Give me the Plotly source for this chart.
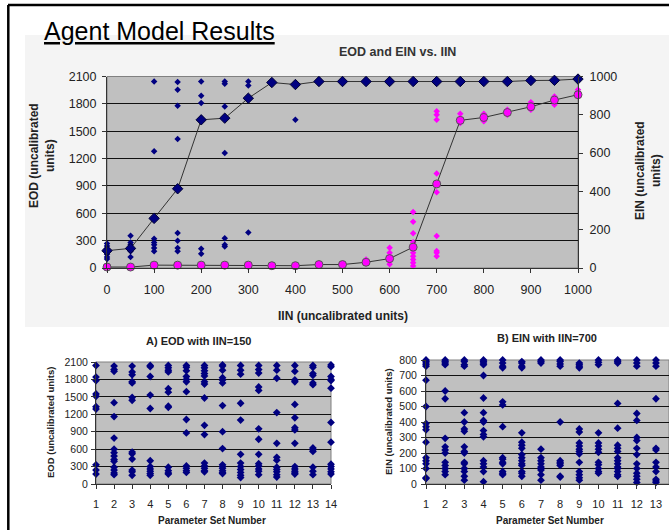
import plotly.graph_objects as go

# ---------------- data ----------------
IIN = [0, 50, 100, 150, 200, 250, 300, 350, 400, 450, 500,
       550, 600, 650, 700, 750, 800, 850, 900, 950, 1000]
EOD_MEAN = [190, 215, 544, 869, 1625, 1643, 1862, 2034, 2012, 2045, 2045,
            2045, 2045, 2045, 2045, 2045, 2045, 2045, 2056, 2058, 2072]
EIN_MEAN = [5, 5, 15, 15, 15, 15, 15, 12, 12, 18, 18,
            30, 49, 109, 439, 771, 786, 812, 842, 877, 905]

EOD_RUNS = {
    0: [270, 240, 210, 180, 150, 120, 100],
    50: [355, 280, 255, 225, 185, 120],
    100: [2045, 1280, 320, 280, 255, 220, 185],
    150: [2040, 1955, 1780, 1415, 385, 300, 220, 185],
    200: [2045, 1890, 1810, 210, 155],
    250: [2045, 2020, 1770, 1260, 325, 255, 235],
    300: [2045, 2000, 390],
    400: [1625],
}
EIN_RUNS = {
    550: [45],
    600: [106, 80, 62, 36, 19],
    650: [293, 241, 181, 135, 97, 80, 62, 45, 28, 10],
    700: [818, 800, 774, 493, 396, 167, 89, 80, 62],
    750: [806, 757],
    800: [806, 766],
    850: [826, 800],
    900: [865, 826],
    950: [896, 852],
    1000: [931, 896],
}

# Panel A: EOD with IIN=150, per parameter set
EOD_SET = {
    1: [2040, 1840, 1780, 1550, 1510, 1330, 1290, 330, 240, 170],
    2: [2030, 1970, 1940, 1400, 1160, 790, 600, 540, 480, 420, 390, 290, 240, 190, 160],
    3: [2030, 1930, 1880, 1760, 1740, 1490, 1440, 550, 520, 430, 240, 210, 150],
    4: [2040, 2020, 1850, 1530, 1300, 400, 300, 260, 220, 180, 150],
    5: [2040, 2000, 1960, 1930, 1640, 1580, 1340, 1320, 290, 230, 190, 170],
    6: [2040, 2010, 1950, 1850, 1800, 1760, 1590, 1110, 880, 310, 270, 230, 200],
    7: [2040, 2000, 1950, 1900, 1860, 1760, 1720, 1480, 1010, 850, 360, 310, 270, 230, 210],
    8: [2050, 2030, 1960, 1830, 1790, 1740, 1350, 900, 610, 330, 300, 270, 230, 200, 180],
    9: [2040, 1960, 1890, 1390, 1100, 510, 360, 300, 250, 200, 150, 110],
    10: [2040, 1970, 1910, 1670, 1610, 950, 770, 510, 350, 310, 260, 220, 160],
    11: [2040, 1960, 1820, 1230, 700, 460, 410, 290, 250, 210, 160, 120],
    12: [2040, 1940, 1790, 1760, 1370, 1140, 970, 930, 700, 300, 260, 220, 190, 170],
    13: [2040, 2010, 1900, 1870, 1740, 1710, 620, 590, 560, 290, 220, 160],
    14: [2050, 2020, 1850, 1800, 1780, 1650, 1060, 720, 340, 300, 260, 210, 170],
}
# Panel B: EIN with IIN=700, per parameter set
EIN_SET = {
    1: [800, 790, 780, 770, 760, 670, 500, 390, 370, 350, 270, 170, 150, 130, 100, 40, 35],
    2: [800, 790, 780, 770, 600, 550, 295, 240, 220, 200, 140, 120, 100, 80, 60],
    3: [800, 790, 770, 760, 460, 400, 355, 340, 240, 210, 200, 140, 130, 100, 80, 50, 25],
    4: [800, 790, 780, 770, 700, 555, 460, 410, 400, 345, 320, 305, 150, 130, 110, 80, 15],
    5: [800, 780, 760, 750, 530, 510, 370, 170, 160, 140, 130, 80, 70, 60],
    6: [790, 780, 760, 750, 330, 270, 250, 230, 190, 170, 150, 130, 120, 80, 70, 50],
    7: [800, 790, 780, 225, 170, 150, 130, 110, 100, 90, 60, 25],
    8: [800, 790, 775, 760, 400, 150, 140, 130, 120, 50, 45],
    9: [780, 770, 760, 750, 355, 335, 265, 245, 225, 210, 195, 140, 80, 60, 40, 25],
    10: [800, 785, 770, 330, 265, 245, 225, 205, 140, 125, 100, 80, 70],
    11: [800, 790, 780, 520, 360, 250, 230, 210, 170, 150, 130, 110, 100, 80, 60, 50],
    12: [800, 780, 760, 455, 410, 300, 280, 230, 190, 130, 100, 70, 50, 30, 10],
    13: [800, 780, 760, 550, 230, 220, 140, 110, 80, 30, 20, 10],
}

MAIN_X_TICKS = list(range(0, 1001, 100))
EOD_TICKS = list(range(0, 2101, 300))
EIN_TICKS = list(range(0, 1001, 200))
SET_TICKS_A = list(range(1, 15))
SET_TICKS_B = list(range(1, 14))
EIN_SET_TICKS = list(range(0, 801, 100))

# ---------------- styles ----------------
NAVY = "#000080"
MAGENTA = "#ff00ff"
FONT = "Liberation Sans, Arial, sans-serif"
TXT = "#222222"
W, H = 669, 530


def px(x):
    return x / W


def py(y):
    return 1 - y / H


def flatten(d):
    xs, ys = [], []
    for k, vals in d.items():
        for v in vals:
            xs.append(k)
            ys.append(v)
    return xs, ys


fig = go.Figure()

# main chart runs
ex, ey = flatten(EOD_RUNS)
fig.add_trace(go.Scatter(x=ex, y=ey, mode="markers", xaxis="x", yaxis="y",
                         marker=dict(symbol="diamond", size=5, color=NAVY),
                         cliponaxis=False, showlegend=False))
nx, ny = flatten(EIN_RUNS)
fig.add_trace(go.Scatter(x=nx, y=ny, mode="markers", xaxis="x", yaxis="y2",
                         marker=dict(symbol="diamond", size=5, color=MAGENTA),
                         cliponaxis=False, showlegend=False))
# means
fig.add_trace(go.Scatter(x=IIN, y=EIN_MEAN, mode="lines+markers", xaxis="x", yaxis="y2",
                         line=dict(color="#333333", width=1),
                         marker=dict(symbol="circle", size=8, color=MAGENTA,
                                     line=dict(color="#555555", width=1)),
                         cliponaxis=False, showlegend=False))
fig.add_trace(go.Scatter(x=IIN, y=EOD_MEAN, mode="lines+markers", xaxis="x", yaxis="y",
                         line=dict(color="#333333", width=1),
                         marker=dict(symbol="diamond", size=8, color=NAVY,
                                     line=dict(color="#000033", width=1)),
                         cliponaxis=False, showlegend=False))

# panel A
ax, ay = flatten(EOD_SET)
fig.add_trace(go.Scatter(x=ax, y=ay, mode="markers", xaxis="x3", yaxis="y3",
                         marker=dict(symbol="diamond", size=6, color=NAVY),
                         cliponaxis=False, showlegend=False))
# panel B
bx, by = flatten(EIN_SET)
fig.add_trace(go.Scatter(x=bx, y=by, mode="markers", xaxis="x4", yaxis="y4",
                         marker=dict(symbol="diamond", size=6, color=NAVY),
                         cliponaxis=False, showlegend=False))

# domains (pixel positions -> paper)
MAIN_X = [px(107), px(578)]
MAIN_Y = [py(268), py(76.5)]
A_X = [px(96), px(331)]
A_Y = [py(484), py(362)]
B_X = [px(426), 1.0]
B_Y = [py(484), py(360)]

axis_common = dict(showline=True, linecolor="#333333", linewidth=1,
                   ticks="outside", ticklen=4, tickcolor="#333333",
                   zeroline=False, fixedrange=True, automargin=False)

fig.update_layout(
    width=W, height=H, autosize=False,
    margin=dict(l=0, r=0, t=0, b=0, pad=0, autoexpand=False),
    paper_bgcolor="white", plot_bgcolor="rgba(0,0,0,0)",
    font=dict(family=FONT, color=TXT),
    showlegend=False,
    xaxis=dict(domain=MAIN_X, anchor="y", range=[0, 1000], tickvals=MAIN_X_TICKS,
               showgrid=False, tickfont=dict(size=12.5, color=TXT),
               ticklabelstandoff=6, **axis_common),
    yaxis=dict(domain=MAIN_Y, anchor="x", range=[0, 2100], tickvals=EOD_TICKS,
               showgrid=True, gridcolor="#111111", gridwidth=1,
               tickfont=dict(size=12.5, color=TXT), ticklabelstandoff=3, **axis_common),
    yaxis2=dict(overlaying="y", side="right", anchor="x", range=[0, 1000],
                tickvals=EIN_TICKS, showgrid=False,
                tickfont=dict(size=12.5, color=TXT), ticklabelstandoff=4, **axis_common),
    xaxis3=dict(domain=A_X, anchor="y3", range=[1, 14], tickvals=SET_TICKS_A,
                showgrid=False, tickfont=dict(size=11, color=TXT),
                ticklabelstandoff=6, **axis_common),
    yaxis3=dict(domain=A_Y, anchor="x3", range=[0, 2100], tickvals=EOD_TICKS,
                showgrid=True, gridcolor="#111111", gridwidth=1,
                tickfont=dict(size=10.5, color=TXT), ticklabelstandoff=1, **axis_common),
    xaxis4=dict(domain=B_X, anchor="y4", range=[1, 13.68], tickvals=SET_TICKS_B,
                showgrid=False, tickfont=dict(size=11, color=TXT),
                ticklabelstandoff=6, **axis_common),
    yaxis4=dict(domain=B_Y, anchor="x4", range=[0, 800], tickvals=EIN_SET_TICKS,
                showgrid=True, gridcolor="#111111", gridwidth=1,
                tickfont=dict(size=10.5, color=TXT), ticklabelstandoff=2, **axis_common),
)

shapes = [
    # light slide panel
    dict(type="rect", xref="paper", yref="paper", x0=px(25), x1=1.0, y0=py(327), y1=py(35),
         fillcolor="#f4f4f4", line=dict(width=0), layer="below"),
    # plot area backgrounds
    dict(type="rect", xref="paper", yref="paper", x0=MAIN_X[0], x1=MAIN_X[1],
         y0=MAIN_Y[0], y1=MAIN_Y[1], fillcolor="#c0c0c0",
         line=dict(color="#808080", width=1), layer="below"),
    dict(type="rect", xref="paper", yref="paper", x0=A_X[0], x1=A_X[1],
         y0=A_Y[0], y1=A_Y[1], fillcolor="#c0c0c0",
         line=dict(color="#808080", width=1), layer="below"),
    dict(type="rect", xref="paper", yref="paper", x0=B_X[0], x1=B_X[1],
         y0=B_Y[0], y1=B_Y[1], fillcolor="#c0c0c0",
         line=dict(color="#808080", width=1), layer="below"),
    # slide frame
    dict(type="line", xref="paper", yref="paper", x0=px(8), x1=1.0, y0=py(5), y1=py(5),
         line=dict(color="black", width=2.5)),
    dict(type="line", xref="paper", yref="paper", x0=px(8.3), x1=px(8.3), y0=0, y1=py(5),
         line=dict(color="black", width=2.5)),
]
fig.update_layout(shapes=shapes)


def ann(text, x, y, size, bold=True, angle=0, xanchor="center", color=TXT):
    t = f"<b>{text}</b>" if bold else text
    return dict(text=t, x=px(x), y=py(y), xref="paper", yref="paper", showarrow=False,
                xanchor=xanchor, yanchor="middle", textangle=angle,
                font=dict(family=FONT, size=size, color=color))


annotations = [
    ann("<u>Agent Model Results</u>", 42, 31, 25, bold=False, xanchor="left", color="#000000"),
    ann("EOD and EIN vs. IIN", 397, 52, 12.5, color="#333333"),
    ann("EOD (uncalibrated<br>units)", 42, 156, 12, angle=-90),
    ann("EIN (uncalibrated<br>units)", 648, 171, 12, angle=-90),
    ann("IIN (uncalibrated units)", 343, 316, 12),
    ann("A) EOD with IIN=150", 198, 341, 11),
    ann("EOD (uncalibrated units)", 50, 423, 9.5, angle=-90),
    ann("Parameter Set Number", 212, 520, 10),
    ann("B) EIN with IIN=700", 547, 338, 11),
    ann("EIN (uncalibrated units)", 388, 422, 9.5, angle=-90),
    ann("Parameter Set Number", 550, 520, 10),
]
fig.update_layout(annotations=annotations)

POST = ("document.documentElement.style.overflow='hidden';"
        "document.body.style.margin='0';document.body.style.padding='0';"
        "document.body.style.overflow='hidden';"
        "var d=document.getElementById('{plot_id}');"
        "d.style.position='absolute';d.style.left='0px';d.style.top='0px';"
        "d.style.overflow='hidden';d.style.width='669px';d.style.height='530px';")
fig.write_html("out.html", post_script=POST, config={"displayModeBar": False})
